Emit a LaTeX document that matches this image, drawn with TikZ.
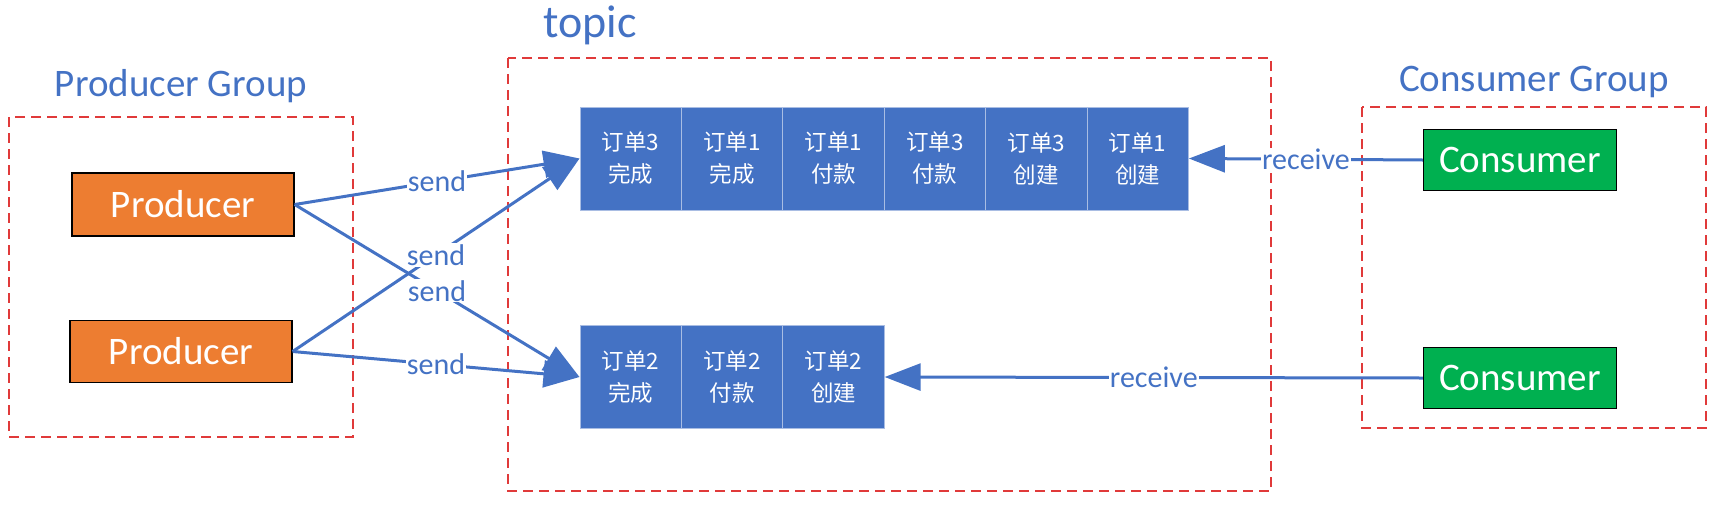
\documentclass[tikz,border=0pt]{standalone}
\usepackage{fontspec}
\setmainfont{Carlito}
\newfontfamily\cjk{Noto Sans CJK SC}
\usetikzlibrary{arrows.meta}
\definecolor{ublue}{HTML}{4472C4}
\definecolor{uorange}{HTML}{ED7D31}
\definecolor{ugreen}{HTML}{00B050}
\definecolor{ured}{HTML}{E03A3A}
\definecolor{cellline}{HTML}{A9BDE3}
\begin{document}
\begin{tikzpicture}[x=1pt,y=-1pt,
 grp/.style={draw=ured, dash pattern=on 10pt off 6pt, line width=1.3pt},
 grplabel/.style={text=ublue, font=\fontsize{39}{46}\selectfont, anchor=base, inner sep=0pt},
 actor/.style={draw=black, line width=1.3pt, text=white, font=\fontsize{39}{46}\selectfont, inner sep=0pt},
 cell/.style={fill=ublue, draw=cellline, line width=1pt, text=white, minimum width=101.4pt, minimum height=103pt, inner sep=0pt, align=center, font=\cjk\fontsize{22.5}{32}\selectfont},
 conn/.style={draw=ublue, line width=3pt, -{Triangle[length=36pt,width=27pt]}},
 lbl/.style={fill=white, text=ublue, font=\fontsize{30}{36}\selectfont, inner sep=1pt},
]
\useasboundingbox (0,0) rectangle (1714,504);
% group frames
\draw[grp] (9,117) rectangle (353,437);
\draw[grp] (508,58) rectangle (1271,491);
\draw[grp] (1362,107) rectangle (1706,428);
% group labels
\node[grplabel] (pgl) at (181,96) {Producer Group};
\node[grplabel, font=\fontsize{46}{52}\selectfont] (tl) at (590,37) {topic};
\node[grplabel] (cgl) at (1534,91) {Consumer Group};
% actors
\node[actor, fill=uorange, minimum width=222pt, minimum height=63pt] (p1) at (183,204.5) {Producer};
\node[actor, fill=uorange, minimum width=222pt, minimum height=62pt] (p2) at (181,351.5) {Producer};
\node[actor, fill=ugreen, minimum width=193pt, minimum height=61pt] (c1) at (1520,160) {Consumer};
\node[actor, fill=ugreen, minimum width=193pt, minimum height=61pt] (c2) at (1520,378) {Consumer};
% top queue
\node[cell] (t1) at (630.7,158.5) {订单3\\完成};
\node[cell] (t2) at (732.1,158.5) {订单1\\完成};
\node[cell] (t3) at (833.5,158.5) {订单1\\付款};
\node[cell] (t4) at (934.9,158.5) {订单3\\付款};
\node[cell] (t5) at (1036.3,158.5) {订单3\\创建};
\node[cell] (t6) at (1137.7,158.5) {订单1\\创建};
% bottom queue
\node[cell] (b1) at (630.7,377) {订单2\\完成};
\node[cell] (b2) at (732.1,377) {订单2\\付款};
\node[cell] (b3) at (833.5,377) {订单2\\创建};
% send connectors
\draw[conn] (p1.east) -- node[lbl] (s1) {send} (t1.west);
\draw[conn] (p2.east) -- node[lbl] (s2) {send} (t1.west);
\draw[conn] (p1.east) -- node[lbl] (s3) {send} (b1.west);
\draw[conn] (p2.east) -- node[lbl] (s4) {send} (b1.west);
% receive connectors
\draw[conn] (c1.west) -- node[lbl] (r1) {receive} (t6.east);
\draw[conn] (c2.west) -- node[lbl] (r2) {receive} (b3.east);
\end{tikzpicture}
\end{document}
